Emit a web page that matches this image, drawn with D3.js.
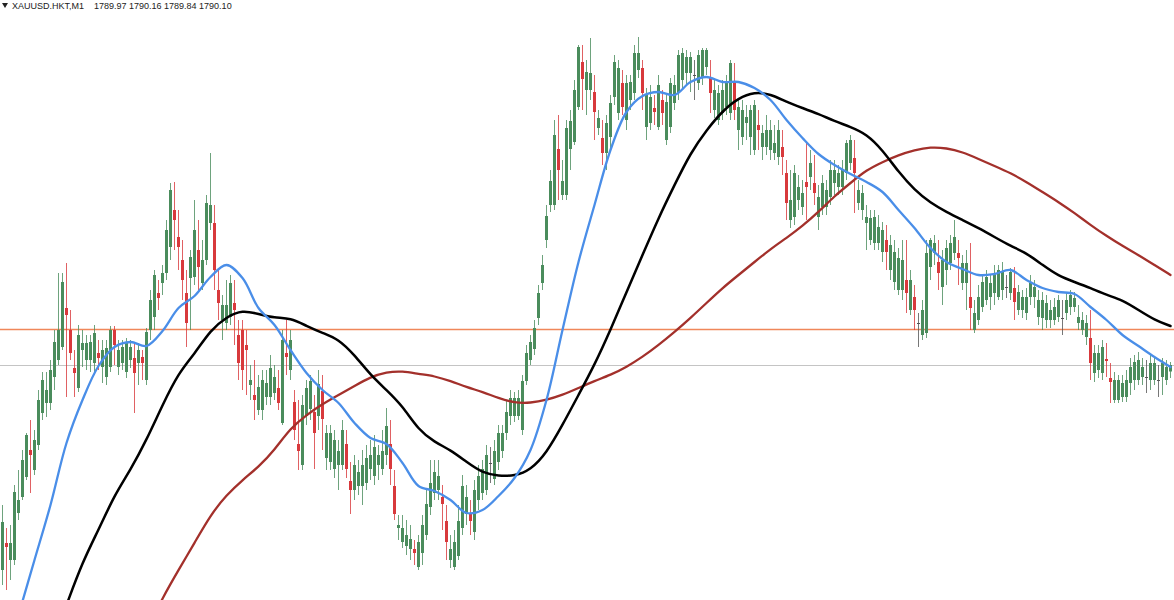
<!DOCTYPE html>
<html>
<head>
<meta charset="utf-8">
<script src="https://cdn.jsdelivr.net/npm/d3@7"></script>
<style>
  html, body { margin: 0; padding: 0; background: #ffffff; }
  svg { display: block; }
</style>
</head>
<body>
<svg id="chart" width="1174" height="600"></svg>
<script>
// ---------------- DATA ----------------
const symbol = "XAUUSD.HKT";
const timeframe = "M1";
const levelPrice = 1790.82;          // orange horizontal level
const priceMin = 1785.40, priceMax = 1797.40;

const opens = [
1786.00,1786.54,1786.20,1786.20,1787.14,1787.46,1787.86,1788.40,1788.00,1788.50,
1789.14,1789.34,1789.34,1789.86,1790.20,1790.46,1791.24,1790.80,1790.04,1789.64,
1790.40,1790.20,1790.20,1790.14,1790.34,1790.06,1789.86,1790.06,1790.80,1790.06,
1790.14,1789.96,1790.20,1790.24,1790.14,1790.26,1789.80,1790.80,1791.06,1791.54,
1791.74,1791.94,1792.46,1793.20,1792.66,1792.20,1791.54,1791.84,1791.86,1792.40,
1791.74,1792.20,1792.94,1792.94,1791.60,1791.00,1790.94,1791.06,1791.34,1790.70,
1790.80,1790.50,1789.70,1789.50,1789.20,1789.20,1789.46,1789.46,1789.54,1789.64,
1788.94,1790.34,1790.00,1789.36,1788.52,1788.10,1789.08,1789.22,1789.16,1789.08,
1789.58,1788.24,1788.16,1788.02,1788.10,1788.10,1788.52,1787.78,1787.60,1787.68,
1787.68,1787.74,1788.02,1787.88,1788.10,1788.02,1788.30,1788.52,1787.68,1786.84,
1786.56,1786.48,1786.42,1786.42,1786.06,1786.34,1786.70,1787.26,1787.54,1787.60,
1787.46,1786.98,1786.20,1786.06,1786.28,1786.84,1787.12,1787.12,1786.76,1787.40,
1787.54,1787.60,1788.14,1787.82,1788.16,1788.38,1788.74,1789.08,1789.08,1789.08,
1788.80,1789.78,1790.20,1790.42,1791.04,1791.74,1792.60,1793.30,1793.30,1794.42,
1793.50,1793.50,1794.42,1794.56,1795.26,1796.16,1795.60,1795.60,1795.56,1794.84,
1794.64,1794.34,1794.66,1795.46,1795.14,1795.74,1795.00,1795.40,1795.54,1796.00,
1796.04,1794.86,1794.94,1795.24,1794.86,1795.40,1794.60,1794.86,1795.34,1795.54,
1795.80,1795.94,1795.94,1795.90,1795.74,1795.86,1796.06,1795.86,1795.20,1795.00,
1795.14,1795.26,1795.14,1795.74,1794.80,1794.66,1794.94,1794.66,1794.40,1794.90,
1794.46,1794.46,1794.40,1794.34,1794.26,1794.46,1793.94,1793.00,1793.06,1793.40,
1793.26,1793.76,1793.86,1793.74,1793.06,1793.26,1793.26,1793.46,1793.74,1793.66,
1793.66,1793.94,1794.14,1794.24,1793.34,1793.20,1792.94,1792.60,1792.54,1792.54,
1792.36,1792.60,1792.00,1791.76,1791.60,1791.60,1791.80,1791.20,1791.46,1790.94,
1790.70,1790.74,1792.06,1792.34,1792.16,1791.66,1792.00,1792.14,1792.34,1792.34,
1791.74,1791.74,1791.46,1790.80,1791.00,1791.26,1791.40,1791.46,1791.54,1791.46,
1791.60,1791.66,1791.54,1791.64,1791.20,1791.20,1791.14,1791.46,1791.46,1791.06,
1791.04,1791.00,1791.00,1791.00,1791.06,1791.04,1791.14,1791.26,1791.26,1790.94,
1790.80,1790.66,1790.64,1789.94,1790.00,1789.94,1790.22,1789.84,1789.40,1789.40,
1789.46,1789.46,1789.74,1789.80,1789.80,1789.86,1789.86,1789.80,1789.80,1789.80,
1789.86,1789.80,1789.97];

const highs = [
1787.30,1786.84,1786.90,1787.70,1788.00,1788.40,1788.74,1789.00,1788.80,1789.60,
1789.96,1789.96,1790.20,1790.80,1791.94,1791.94,1792.14,1791.20,1790.40,1790.90,
1790.80,1790.70,1790.70,1790.90,1790.60,1790.60,1790.60,1790.88,1790.88,1790.60,
1790.60,1790.64,1790.60,1790.54,1790.54,1790.40,1790.84,1791.60,1792.00,1791.80,
1792.10,1793.00,1793.74,1793.76,1793.20,1792.60,1792.00,1792.40,1793.40,1793.00,
1792.60,1793.50,1794.34,1793.30,1792.00,1791.50,1791.80,1791.90,1791.80,1791.00,
1791.00,1790.80,1790.10,1790.20,1789.90,1790.00,1790.00,1790.30,1790.10,1790.00,
1790.80,1791.00,1790.80,1789.60,1789.40,1789.50,1789.80,1789.90,1789.50,1790.00,
1789.90,1788.90,1788.90,1788.80,1788.60,1789.00,1788.80,1788.16,1788.30,1788.20,
1788.40,1788.50,1788.60,1788.70,1788.50,1788.80,1789.24,1789.00,1788.00,1787.10,
1787.10,1787.00,1786.90,1786.60,1786.70,1787.10,1787.60,1788.20,1788.20,1788.20,
1787.70,1787.30,1786.70,1786.80,1787.30,1787.90,1787.70,1787.40,1787.80,1788.10,
1788.20,1788.50,1788.46,1788.60,1788.90,1788.90,1789.40,1789.60,1789.56,1789.60,
1789.90,1790.50,1790.70,1791.00,1791.70,1792.30,1793.30,1794.00,1795.00,1795.10,
1794.20,1795.00,1795.20,1795.80,1796.50,1796.50,1796.20,1796.64,1795.90,1795.20,
1795.00,1795.10,1795.50,1796.30,1796.20,1796.00,1795.90,1795.90,1796.50,1796.66,
1796.20,1795.64,1795.70,1795.50,1795.90,1795.60,1795.50,1795.84,1795.90,1796.40,
1796.44,1796.40,1796.36,1796.20,1796.40,1796.44,1796.44,1796.20,1795.80,1795.70,
1795.80,1795.90,1796.20,1796.14,1795.40,1795.40,1795.30,1795.30,1795.40,1795.20,
1794.90,1795.10,1795.00,1794.90,1795.00,1794.80,1794.20,1794.00,1794.10,1793.90,
1793.80,1794.54,1794.40,1794.30,1793.70,1793.90,1793.80,1794.20,1794.20,1794.10,
1794.20,1794.60,1794.70,1794.60,1793.80,1793.70,1793.30,1793.20,1793.20,1793.10,
1792.96,1792.90,1792.70,1792.60,1792.44,1792.60,1792.60,1792.00,1791.70,1791.14,
1791.40,1792.60,1792.64,1792.70,1792.60,1792.40,1792.60,1792.70,1793.00,1792.60,
1792.30,1792.40,1792.54,1791.40,1791.70,1791.90,1792.00,1791.90,1792.10,1792.10,
1792.16,1791.90,1792.04,1792.06,1791.70,1791.60,1791.64,1791.90,1791.80,1791.60,
1791.56,1791.50,1791.40,1791.44,1791.50,1791.40,1791.56,1791.60,1791.56,1791.30,
1791.16,1791.10,1791.20,1790.50,1790.50,1790.60,1790.54,1790.14,1789.96,1789.90,
1789.90,1790.00,1790.24,1790.30,1790.36,1790.24,1790.20,1790.30,1790.24,1790.10,
1790.24,1790.20,1790.16];

const lows = [
1785.70,1785.60,1785.80,1786.10,1787.00,1787.40,1787.80,1787.54,1787.90,1788.40,
1789.00,1789.06,1789.20,1789.60,1790.10,1790.40,1789.46,1790.20,1789.46,1789.56,
1790.06,1790.00,1789.96,1789.90,1790.00,1789.74,1789.70,1789.96,1790.10,1789.90,
1790.00,1789.84,1790.04,1789.14,1789.70,1789.80,1789.70,1790.60,1790.80,1791.20,
1791.50,1791.80,1792.20,1792.40,1792.00,1791.40,1790.46,1790.80,1791.70,1791.60,
1791.60,1792.10,1792.80,1791.60,1791.00,1790.60,1790.80,1790.90,1790.50,1789.80,
1789.60,1789.50,1789.40,1789.00,1789.10,1789.00,1789.30,1789.30,1789.40,1789.20,
1788.90,1789.90,1789.80,1788.60,1788.00,1788.00,1788.90,1789.00,1788.02,1788.80,
1788.40,1788.00,1788.00,1787.84,1787.60,1788.00,1787.84,1787.12,1787.40,1787.50,
1787.30,1787.60,1787.80,1787.70,1787.80,1787.90,1788.10,1787.70,1787.00,1786.60,
1786.44,1786.30,1786.20,1786.10,1786.00,1786.10,1786.60,1787.10,1787.40,1787.40,
1786.80,1786.20,1786.04,1786.00,1786.20,1786.70,1786.90,1786.70,1786.60,1787.20,
1787.40,1787.50,1787.74,1787.70,1788.00,1788.24,1788.60,1788.90,1788.96,1789.00,
1788.70,1789.70,1790.10,1790.30,1790.90,1791.60,1792.44,1793.16,1793.20,1793.40,
1793.40,1793.40,1794.00,1794.50,1795.20,1795.20,1795.10,1795.40,1794.60,1794.70,
1794.10,1794.00,1794.40,1795.30,1795.00,1795.10,1794.80,1795.20,1795.40,1795.84,
1795.20,1794.60,1794.80,1794.90,1794.80,1794.90,1794.50,1794.74,1795.20,1795.40,
1795.60,1795.70,1795.56,1795.40,1795.60,1795.70,1795.90,1795.14,1795.04,1794.90,
1795.00,1795.10,1795.00,1795.00,1794.40,1794.50,1794.60,1794.30,1794.30,1794.40,
1794.20,1794.30,1794.20,1794.20,1794.10,1793.90,1793.00,1792.84,1792.90,1793.20,
1793.10,1793.00,1793.60,1793.30,1792.80,1793.10,1793.10,1793.30,1793.50,1793.50,
1793.50,1793.80,1794.00,1793.14,1793.20,1793.00,1792.40,1792.50,1792.40,1792.40,
1792.16,1792.00,1791.80,1791.60,1791.50,1791.40,1791.14,1791.10,1790.80,1790.46,
1790.60,1790.64,1791.80,1792.10,1791.60,1791.30,1791.70,1792.00,1792.20,1791.70,
1791.60,1791.20,1790.80,1790.74,1790.90,1791.16,1791.30,1791.20,1791.30,1791.40,
1791.40,1791.44,1791.40,1791.00,1791.10,1791.04,1791.00,1791.30,1791.24,1790.90,
1790.80,1790.84,1790.84,1790.90,1790.96,1790.70,1791.00,1791.10,1791.16,1790.80,
1790.70,1790.50,1789.80,1789.76,1789.84,1789.80,1789.86,1789.34,1789.34,1789.34,
1789.36,1789.36,1789.50,1789.60,1789.70,1789.70,1789.54,1789.60,1789.70,1789.46,
1789.50,1789.70,1789.84];

const closes = [
1786.96,1786.46,1786.54,1787.56,1787.40,1788.20,1788.70,1788.30,1788.60,1789.40,
1789.80,1789.60,1790.00,1790.56,1790.80,1791.76,1791.10,1790.34,1789.94,1790.70,
1790.54,1790.54,1790.56,1790.74,1790.24,1790.40,1790.44,1790.80,1790.50,1790.40,
1790.46,1790.54,1790.46,1789.94,1790.40,1790.14,1790.76,1791.40,1791.90,1791.44,
1791.94,1792.80,1793.60,1793.00,1792.46,1791.80,1790.94,1792.26,1792.80,1792.06,
1792.20,1793.34,1793.30,1792.00,1791.34,1791.30,1791.30,1791.74,1791.20,1790.14,
1790.00,1790.40,1789.80,1789.40,1789.66,1789.80,1789.74,1790.04,1789.86,1789.34,
1790.60,1790.26,1790.60,1788.80,1788.38,1789.30,1789.64,1789.78,1788.74,1789.72,
1789.02,1788.74,1788.74,1788.60,1788.38,1788.80,1788.02,1787.60,1788.10,1787.96,
1788.10,1788.24,1788.30,1788.46,1788.30,1788.38,1788.88,1788.02,1787.12,1786.90,
1786.84,1786.70,1786.62,1786.34,1786.56,1786.90,1787.32,1787.74,1787.96,1787.88,
1787.32,1786.56,1786.42,1786.56,1786.98,1787.68,1787.46,1786.98,1787.60,1787.88,
1788.02,1788.30,1788.14,1788.38,1788.74,1788.74,1789.16,1789.44,1789.44,1789.44,
1789.78,1790.34,1790.56,1790.84,1791.54,1792.10,1793.08,1793.78,1794.70,1794.00,
1793.78,1794.84,1794.98,1795.60,1796.46,1795.82,1795.96,1795.94,1795.16,1795.04,
1794.34,1794.94,1795.34,1796.16,1796.04,1795.26,1795.74,1795.76,1796.34,1796.34,
1795.54,1795.50,1795.46,1795.16,1795.70,1795.14,1795.36,1795.74,1795.70,1796.30,
1796.34,1796.26,1796.26,1795.90,1796.30,1796.40,1796.40,1795.54,1795.60,1795.54,
1795.60,1795.76,1796.14,1795.20,1795.26,1795.20,1795.06,1795.20,1795.30,1794.80,
1794.74,1794.80,1794.80,1794.54,1794.80,1794.26,1793.34,1793.40,1793.94,1793.66,
1793.54,1793.66,1794.14,1793.54,1793.46,1793.74,1793.60,1794.00,1794.00,1793.94,
1794.00,1794.54,1794.60,1793.94,1793.60,1793.54,1793.06,1793.04,1793.06,1792.86,
1792.80,1792.36,1792.50,1792.36,1792.24,1792.20,1791.54,1791.80,1791.20,1790.94,
1791.20,1792.34,1792.60,1792.54,1791.94,1792.20,1792.44,1792.54,1792.66,1792.24,
1792.14,1792.14,1791.24,1791.14,1791.46,1791.76,1791.86,1791.74,1791.94,1792.00,
1791.96,1791.66,1791.96,1791.36,1791.56,1791.46,1791.46,1791.74,1791.66,1791.40,
1791.40,1791.34,1791.20,1791.26,1791.40,1791.04,1791.40,1791.50,1791.44,1791.06,
1791.00,1790.94,1790.14,1790.34,1790.34,1790.46,1790.18,1789.76,1789.80,1789.80,
1789.74,1789.80,1790.06,1790.16,1790.20,1790.06,1789.86,1790.14,1790.14,1789.80,
1790.14,1790.06,1790.10];

// Moving averages, one value every maStep bars starting at the given bar
const maStep = 4;
const maFastStart = 4;
const maFast = [
1785.10,1786.20,1787.30,1788.54,1789.40,1790.08,1790.46,1790.56,1790.48,1790.78,
1791.24,1791.48,1791.86,1792.10,1791.84,1791.24,1790.90,1790.40,1789.94,1789.60,
1789.34,1788.94,1788.64,1788.52,1788.14,1787.68,1787.58,1787.40,1787.14,1787.20,
1787.48,1787.84,1788.40,1789.40,1790.80,1792.16,1793.30,1794.40,1795.16,1795.48,
1795.56,1795.50,1795.76,1795.86,1795.76,1795.76,1795.64,1795.40,1795.00,1794.64,
1794.32,1794.10,1793.92,1793.76,1793.56,1793.20,1792.84,1792.44,1792.16,1792.02,
1791.90,1791.92,1792.00,1791.80,1791.64,1791.56,1791.52,1791.26,1791.00,1790.70,
1790.48,1790.26,1790.06];
const maMidStart = 16;
const maMid = [
1785.30,1786.16,1786.80,1787.50,1788.00,1788.60,1789.30,1789.94,1790.32,1790.80,
1791.06,1791.20,1791.12,1791.04,1791.04,1790.88,1790.74,1790.62,1790.30,1789.90,
1789.60,1789.28,1788.80,1788.56,1788.40,1788.16,1787.94,1787.88,1787.88,1788.00,
1788.34,1788.90,1789.50,1790.10,1790.80,1791.56,1792.30,1793.04,1793.70,1794.34,
1794.80,1795.18,1795.44,1795.56,1795.52,1795.36,1795.24,1795.12,1794.98,1794.86,
1794.72,1794.40,1793.96,1793.60,1793.34,1793.16,1793.00,1792.84,1792.66,1792.48,
1792.34,1792.10,1791.88,1791.76,1791.64,1791.50,1791.40,1791.20,1791.00,1790.88];
const maSlowStart = 36;
const maSlow = [
1784.80,1785.44,1786.00,1786.54,1787.10,1787.50,1787.80,1788.06,1788.40,1788.84,
1789.10,1789.32,1789.50,1789.68,1789.86,1789.96,1789.98,1789.92,1789.88,1789.78,
1789.66,1789.56,1789.44,1789.34,1789.34,1789.40,1789.50,1789.64,1789.78,1789.90,
1790.06,1790.26,1790.50,1790.76,1791.04,1791.34,1791.64,1791.90,1792.16,1792.42,
1792.64,1792.88,1793.16,1793.48,1793.74,1794.00,1794.16,1794.30,1794.40,1794.46,
1794.44,1794.36,1794.22,1794.08,1793.94,1793.76,1793.56,1793.36,1793.14,1792.90,
1792.68,1792.48,1792.30,1792.10,1791.90];

// ---------------- DRAW ----------------
const W = 1174, H = 600;
const svg = d3.select("#chart");
const n = closes.length;
const x = d3.scaleLinear().domain([0, n - 1]).range([2.5, W - 3.5]);
const y = d3.scaleLinear().domain([priceMin, priceMax]).range([H, 0]);

svg.append("rect").attr("width", W).attr("height", H).attr("fill", "#ffffff");
svg.append("defs").append("clipPath").attr("id", "clip")
  .append("rect").attr("width", W).attr("height", H);
const plot = svg.append("g").attr("clip-path", "url(#clip)");

// horizontal lines
const lastClose = closes[n - 1];
plot.append("line")
  .attr("x1", 0).attr("x2", W)
  .attr("y1", Math.round(y(levelPrice)) + 0.5).attr("y2", Math.round(y(levelPrice)) + 0.5)
  .attr("stroke", "#f0875a").attr("stroke-width", 1.5);
plot.append("line")
  .attr("x1", 0).attr("x2", W)
  .attr("y1", Math.round(y(lastClose)) + 0.5).attr("y2", Math.round(y(lastClose)) + 0.5)
  .attr("stroke", "#c4c4c4").attr("stroke-width", 1);

// candles
const GREEN = "#4a8c5c", RED = "#d8393c", DOJI = "#555555";
const bars = d3.range(n).map(i => ({ i, o: opens[i], h: highs[i], l: lows[i], c: closes[i] }));
const colorOf = d => d.c > d.o ? GREEN : (d.c < d.o ? RED : DOJI);
const cg = plot.append("g");
cg.selectAll("line.wick").data(bars).join("line")
  .attr("class", "wick")
  .attr("x1", d => x(d.i)).attr("x2", d => x(d.i))
  .attr("y1", d => y(d.h)).attr("y2", d => y(d.l))
  .attr("stroke", colorOf).attr("stroke-opacity", 0.8).attr("stroke-width", 1);
cg.selectAll("rect.body").data(bars).join("rect")
  .attr("class", "body")
  .attr("x", d => x(d.i) - 1.5)
  .attr("width", 3)
  .attr("y", d => y(Math.max(d.o, d.c)))
  .attr("height", d => Math.max(1, Math.abs(y(d.o) - y(d.c))))
  .attr("fill", colorOf);

// moving averages
function drawMA(vals, start, color, width, curve) {
  const pts = vals.map((v, k) => [start + k * maStep, v]);
  const line = d3.line().x(d => x(d[0])).y(d => y(d[1])).curve(curve);
  plot.append("path").datum(pts)
    .attr("d", line).attr("fill", "none")
    .attr("stroke", color).attr("stroke-width", width)
    .attr("stroke-linejoin", "round").attr("stroke-linecap", "round");
}
drawMA(maSlow, maSlowStart, "#a3302b", 2.3, d3.curveBasis);
drawMA(maMid, maMidStart, "#000000", 2.5, d3.curveBasis);
drawMA(maFast, maFastStart, "#4a8ee8", 2.3, d3.curveCatmullRom.alpha(0.5));

// header
const hdr = svg.append("g").attr("font-family", "'Liberation Sans', Arial, sans-serif")
  .attr("font-size", 9).attr("fill", "#222");
hdr.append("path").attr("d", "M2,3 L8,3 L5,8 Z").attr("fill", "#222");
hdr.append("text").attr("x", 12).attr("y", 9).text(`${symbol},${timeframe}`);
const last = bars[n - 1];
const vals = [last.o, last.h, last.l, last.c];
hdr.append("text").attr("x", 94).attr("y", 9)
  .attr("xml:space", "preserve")
  .text(vals.map(d => d.toFixed(2)).join(" "));
</script>
</body>
</html>
